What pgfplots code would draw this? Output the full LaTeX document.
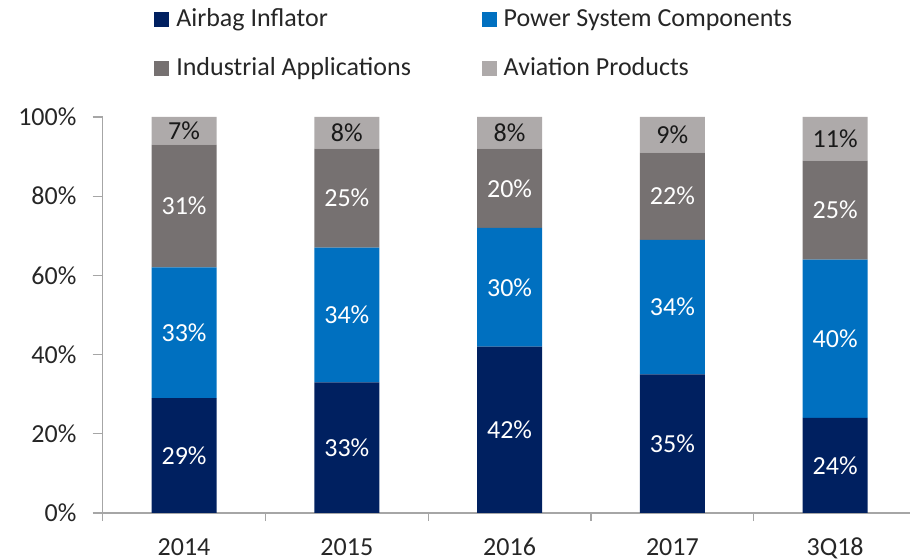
\documentclass[border=0pt]{standalone}
\usepackage{pgfplots}
\usepackage{pgfplotstable}
\pgfplotsset{compat=1.18}
\usepackage{fontspec}
\setmainfont{Carlito}
\definecolor{airbag}{HTML}{002060}
\definecolor{power}{HTML}{0070C0}
\definecolor{indus}{HTML}{767171}
\definecolor{avia}{HTML}{AEAAAA}
\definecolor{axisgray}{HTML}{A6A6A6}
\pgfplotstableread{
x airbag power indus avia
0 29 33 31 7
1 33 34 25 8
2 42 30 20 8
3 35 34 22 9
4 24 40 25 11
}\shares
\newcommand{\bigf}{\fontsize{19.5}{23.4}\selectfont}
\begin{document}
\bigf
\begin{tikzpicture}
\begin{axis}[
  at={(0,0)}, anchor=south west,
  width=605.5pt, height=297pt, scale only axis,
  ybar stacked, bar width=48.75pt,
  /pgf/number format/assume math mode=true,
  xmin=-0.5, xmax=4.46, ymin=0, ymax=100,
  axis lines*=left,
  axis line style={axisgray, line width=1pt, -},
  xtick={0,1,2,3,4},
  xticklabels={2014,2015,2016,2017,3Q18},
  major x tick style={draw=none},
  minor xtick={-0.5,0.5,1.5,2.5,3.5},
  minor tick length=6pt,
  major tick length=7.5pt,
  tick align=outside,
  tick style={axisgray, line width=1pt},
  ytick={0,20,40,60,80,100},
  yticklabels={0\%,20\%,40\%,60\%,80\%,100\%},
  tick label style={font=\bigf, text=black!85},
  xticklabel style={anchor=north, inner sep=0pt, text height=12.4pt, text depth=0pt, yshift=-11.5pt},
  yticklabel style={anchor=east, inner sep=0pt, xshift=-12pt},
  nodes near coords={\pgfmathprintnumber{\rawy}\%},
  nodes near coords style={font=\bigf, anchor=center},
  legend columns=2,
  legend cell align=left,
  legend image code/.code={\fill[#1] (0pt,-5.625pt) rectangle (11.25pt,5.625pt);},
  legend style={at={(axis description cs:0,1)}, anchor=south west,
    xshift=38.5pt, yshift=25pt, draw=none, fill=none, inner sep=0pt,
    font=\bigf, text=black!85,
    nodes={inner xsep=0pt, inner ysep=3pt},
    /tikz/every odd column/.append style={column sep=5.25pt},
    /tikz/every even column/.append style={column sep=53pt},
    row sep=14pt},
]
\addplot[fill=airbag, draw=none, visualization depends on={\thisrow{airbag} \as \rawy},
  every node near coord/.append style={text=white}] table[x=x, y=airbag] {\shares};
\addplot[fill=power, draw=none, visualization depends on={\thisrow{power} \as \rawy},
  every node near coord/.append style={text=white}] table[x=x, y=power] {\shares};
\addplot[fill=indus, draw=none, visualization depends on={\thisrow{indus} \as \rawy},
  every node near coord/.append style={text=white}] table[x=x, y=indus] {\shares};
\addplot[fill=avia, draw=none, visualization depends on={\thisrow{avia} \as \rawy},
  every node near coord/.append style={text=black!90}] table[x=x, y=avia] {\shares};
\legend{Airbag Inflator, Power System Components, Industrial Applications, Aviation Products}
\end{axis}
\pgfresetboundingbox
\path[use as bounding box] ([xshift=-77pt,yshift=-35.25pt]current axis.south west) rectangle ([xshift=605.5pt,yshift=384.75pt]current axis.south west);
\end{tikzpicture}
\end{document}
